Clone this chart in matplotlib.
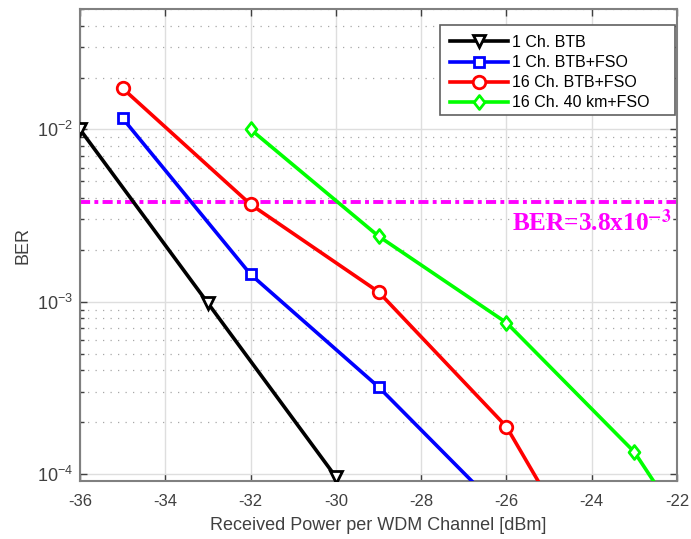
import matplotlib
matplotlib.use("Agg")
import matplotlib.pyplot as plt
from matplotlib.patches import Rectangle
from matplotlib.path import Path
from matplotlib.ticker import LogLocator, NullFormatter, FixedLocator

plt.rcParams['font.family'] = ['Liberation Sans', 'DejaVu Sans']
plt.rcParams['axes.unicode_minus'] = False
plt.rcParams['mathtext.fontset'] = 'custom'
plt.rcParams['mathtext.rm'] = 'Liberation Sans'
plt.rcParams['mathtext.it'] = 'Liberation Sans:italic'
plt.rcParams['mathtext.bf'] = 'Liberation Sans:bold'
plt.rcParams['mathtext.default'] = 'regular'

# Received power [dBm] and measured BER for each configuration
power_1ch_btb = [-36, -33, -30]
ber_1ch_btb = [1.0e-2, 9.8e-4, 9.6e-5]

power_1ch_fso = [-35, -32, -29, -26]
ber_1ch_fso = [1.16e-2, 1.44e-3, 3.2e-4, 5.7e-5]

power_16ch_fso = [-35, -32, -29, -26, -23]
ber_16ch_fso = [1.73e-2, 3.67e-3, 1.14e-3, 1.88e-4, 1.0e-5]

power_16ch_40km = [-32, -29, -26, -23, -20]
ber_16ch_40km = [1.0e-2, 2.4e-3, 7.55e-4, 1.34e-4, 1.0e-5]

fec_limit = 3.8e-3
x_ticks = [-36, -34, -32, -30, -28, -26, -24, -22]

# slightly tall diamond marker
diamond = Path([(0, 1), (0.78, 0), (0, -1), (-0.78, 0), (0, 1)],
               [Path.MOVETO, Path.LINETO, Path.LINETO, Path.LINETO, Path.CLOSEPOLY])

fig = plt.figure(figsize=(6.91, 5.39), dpi=100)
ax = fig.add_axes([0.1158, 0.1076, 0.864, 0.8757])

ax.set_yscale('log')
ax.set_xlim(-36, -22)
ax.set_ylim(9.1e-5, 5.0e-2)

lw = 2.6
ax.plot(power_1ch_btb, ber_1ch_btb, color='black', lw=lw, marker='v',
        ms=9, mfc='white', mew=2, label='1 Ch. BTB', zorder=3)
ax.plot(power_1ch_fso, ber_1ch_fso, color='#0000ff', lw=lw, marker='s',
        ms=7, mfc='white', mew=2, label='1 Ch. BTB+FSO', zorder=3)
ax.plot(power_16ch_fso, ber_16ch_fso, color='#ff0000', lw=lw, marker='o',
        ms=9, mfc='white', mew=2, label='16 Ch. BTB+FSO', zorder=3)
ax.plot(power_16ch_40km, ber_16ch_40km, color='#00ff00', lw=lw, marker=diamond,
        ms=10, mfc='white', mew=2, label='16 Ch. 40 km+FSO', zorder=3)

ax.axhline(fec_limit, color='#ff00ff', lw=2.8, ls=(0, (2.6, 1.1, 1.0, 1.1)), zorder=2)
ax.text(-22.12, fec_limit * 0.676, r'BER=3.8x10$^{\mathbf{-3}}$', color='#ff00ff',
        fontsize=18.2, fontweight='bold', family='Liberation Serif',
        math_fontfamily='stix', ha='right', va='baseline')

ax.xaxis.set_major_locator(FixedLocator(x_ticks))
ax.yaxis.set_major_locator(LogLocator(base=10, numticks=10))
ax.yaxis.set_minor_locator(LogLocator(base=10, subs=range(2, 10), numticks=10))
ax.yaxis.set_minor_formatter(NullFormatter())

ax.grid(True, which='major', color='#dedede', lw=1.0, ls='-')
ax.grid(True, which='minor', axis='y', color='#a8a8a8', lw=0.9, ls=(0, (1, 5)))
ax.set_axisbelow(True)

ax.tick_params(which='both', direction='in', top=True, right=True,
               colors='#404040', labelcolor='#404040')
ax.tick_params(which='major', length=5, width=1)
ax.tick_params(which='minor', length=3, width=1)
ax.tick_params(axis='x', pad=9, labelsize=12)
ax.tick_params(axis='y', pad=5, labelsize=13)
for sp in ax.spines.values():
    sp.set_color('#808080')
    sp.set_linewidth(1.5)

ax.set_xlabel('Received Power per WDM Channel [dBm]', fontsize=13, color='#404040',
              labelpad=6)
ax.set_ylabel('BER', fontsize=13, color='#404040', labelpad=4)

# legend with a wide frame drawn separately
leg_left, leg_top, leg_right, leg_bottom = 0.603, 0.966, 0.9966, 0.775
ax.add_patch(Rectangle((leg_left, leg_bottom), leg_right - leg_left,
                       leg_top - leg_bottom, transform=ax.transAxes,
                       facecolor='white', edgecolor='#606060', lw=1.2, zorder=4))
leg = ax.legend(loc='upper left', bbox_to_anchor=(leg_left + 0.005, leg_top - 0.006),
                fontsize=11.5, handlelength=3.6, borderpad=0.45, labelspacing=0.32,
                handletextpad=0.3, borderaxespad=0.0, frameon=False)
leg.set_zorder(5)

fig.savefig('out.png', dpi=100)
